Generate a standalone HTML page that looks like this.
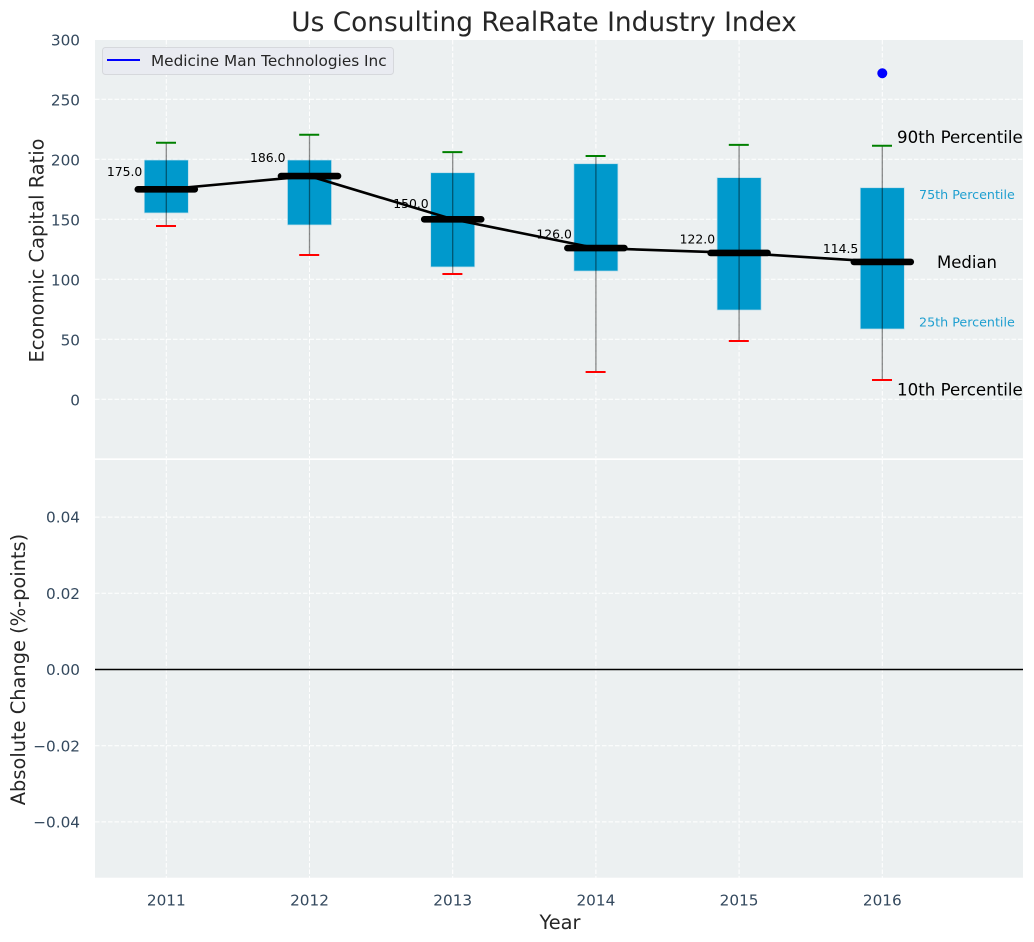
<!DOCTYPE html>
<html>
<head>
<meta charset="utf-8">
<title>Us Consulting RealRate Industry Index</title>
<style>
html,body{margin:0;padding:0;background:#fff;}
svg{display:block;font-family:"DejaVu Sans","Liberation Sans",sans-serif;}
</style>
</head>
<body>
<svg id="chart" xmlns="http://www.w3.org/2000/svg" width="1034" height="942" viewBox="0 0 1034 942">
  <rect x="0" y="0" width="1034" height="942" fill="#ffffff"/>
  <rect x="95" y="40" width="928" height="418.300" fill="#ecf0f1"/>
  <rect x="95" y="460" width="928" height="417.700" fill="#ecf0f1"/>
  <g id="grid"></g>
  <g id="ticks"></g>
  <g id="marks"></g>
  <text x="544" y="31" font-size="26.4" text-anchor="middle" fill="#262626">Us Consulting RealRate Industry Index</text>
  <text transform="translate(43.5,250.5) rotate(-90)" font-size="19.4" text-anchor="middle" fill="#262626">Economic Capital Ratio</text>
  <text transform="translate(25,669.5) rotate(-90)" font-size="19.4" text-anchor="middle" fill="#262626">Absolute Change (%-points)</text>
  <text x="560" y="929" font-size="19.4" text-anchor="middle" fill="#262626">Year</text>
  <g>
    <rect x="102.500" y="47.500" width="291" height="27" rx="3" fill="#e9ebf1" stroke="#d6d8dc" stroke-width="1"/>
    <line x1="107" y1="60" x2="140" y2="60" stroke="#0000ff" stroke-width="2"/>
    <text x="151" y="66" font-size="15.28" fill="#262626">Medicine Man Technologies Inc</text>
  </g>
</svg>
<script>
const years = [2011, 2012, 2013, 2014, 2015, 2016];
const p90 = [213.8, 220.5, 206, 202.8, 212, 211.3];
const q3 = [199.4, 199.4, 188.8, 196.3, 184.7, 176.3];
const medians = [175, 186, 150, 126, 122, 114.5];
const q1 = [155.3, 145.3, 110.3, 106.9, 74.4, 58.6];
const p10 = [144.4, 120.3, 104.4, 22.8, 48.6, 16.1];
const medianLabels = ['175.0', '186.0', '150.0', '126.0', '122.0', '114.5'];
const companyYears = [2016];
const companyValues = [271.7];
const topTicks = [0, 50, 100, 150, 200, 250, 300];
const topTickLabels = ['0', '50', '100', '150', '200', '250', '300'];
const bottomTicks = [-0.04, -0.02, 0, 0.02, 0.04];
const bottomTickLabels = ['\u22120.04', '\u22120.02', '0.00', '0.02', '0.04'];

const NS = 'http://www.w3.org/2000/svg';
function xScale(year) { return 166.3 + (year - 2011) * 143.2; }
function yTop(value) { return 399.3 - value * 1.2; }
function yBottom(value) { return 669.5 - value * 3810; }
function add(parent, tag, attrs, text) {
  const el = document.createElementNS(NS, tag);
  Object.keys(attrs).forEach(function (k) { el.setAttribute(k, attrs[k]); });
  if (text !== undefined) { el.textContent = text; }
  parent.appendChild(el);
  return el;
}
const grid = document.getElementById('grid');
const ticks = document.getElementById('ticks');
const marks = document.getElementById('marks');
const TICK = '#34495e';
const dash = '4.5 2';

topTicks.forEach(function (t, i) {
  const line = add(grid, 'line', { x1: 95, x2: 1023, y1: yTop(t), y2: yTop(t), stroke: '#fff', 'stroke-width': 1, 'stroke-dasharray': dash });
  
  
  const label = add(ticks, 'text', { x: 80, y: yTop(t) + 6, 'font-size': 15.28, 'text-anchor': 'end', fill: TICK }, topTickLabels[i]);
  
  
});
bottomTicks.forEach(function (t, i) {
  const line = add(grid, 'line', { x1: 95, x2: 1023, y1: yBottom(t), y2: yBottom(t), stroke: '#fff', 'stroke-width': 1, 'stroke-dasharray': dash });
  
  
  const label = add(ticks, 'text', { x: 80, y: yBottom(t) + 5.6, 'font-size': 15.28, 'text-anchor': 'end', fill: TICK }, bottomTickLabels[i]);
  
  
});
years.forEach(function (year) {
  const x = xScale(year);
  const a = add(grid, 'line', { x1: x, x2: x, y1: 40, y2: 458, stroke: '#fff', 'stroke-width': 1, 'stroke-dasharray': dash });
  
  
  const b = add(grid, 'line', { x1: x, x2: x, y1: 460, y2: 878, stroke: '#fff', 'stroke-width': 1, 'stroke-dasharray': dash });
  
  
  const label = add(ticks, 'text', { x: x, y: 905.5, 'font-size': 15.28, 'text-anchor': 'middle', fill: TICK }, String(year));
  
  
});

const zero = add(marks, 'line', { x1: 95, x2: 1023, y1: yBottom(0), y2: yBottom(0), stroke: '#000', 'stroke-width': 1.4 });



years.forEach(function (year, i) {
  const x = xScale(year);
  const box = add(marks, 'rect', { x: x - 22, y: yTop(q3[i]), width: 44, height: yTop(q1[i]) - yTop(q3[i]), fill: '#0099cc', stroke: '#b9dcea', 'stroke-width': 0.7 });
  
  
  const whisker = add(marks, 'line', { x1: x, x2: x, y1: yTop(p90[i]), y2: yTop(p10[i]), stroke: '#000', 'stroke-opacity': 0.45, 'stroke-width': 1.3 });
  
  
  const capHigh = add(marks, 'line', { x1: x - 10.3, x2: x + 9.7, y1: yTop(p90[i]), y2: yTop(p90[i]), stroke: '#008000', 'stroke-width': 2 });
  
  
  const capLow = add(marks, 'line', { x1: x - 10.3, x2: x + 9.7, y1: yTop(p10[i]), y2: yTop(p10[i]), stroke: '#ff0000', 'stroke-width': 2 });
  
  
});

const trendPoints = years.map(function (year, i) { return xScale(year) + ',' + yTop(medians[i]); }).join(' ');
const trend = add(marks, 'polyline', { points: trendPoints, fill: 'none', stroke: '#000', 'stroke-width': 2.6 });



years.forEach(function (year, i) {
  const x = xScale(year);
  const median = add(marks, 'line', { x1: x - 28.5, x2: x + 28.5, y1: yTop(medians[i]), y2: yTop(medians[i]), stroke: '#000', 'stroke-width': 6.6, 'stroke-linecap': 'round' });
  
  
  const label = add(marks, 'text', { x: x - 24, y: yTop(medians[i] * 1.061 + 4.3) + 4.6, 'font-size': 12.4, 'text-anchor': 'end', fill: '#000' }, medianLabels[i]);
  
  
});

companyYears.forEach(function (year, i) {
  const dot = add(marks, 'circle', { cx: xScale(year), cy: yTop(companyValues[i]), r: 5, fill: '#0000ff' });
  
  
});

const last = years.length - 1;
const anchorX = xScale(years[last]);
const p90Note = add(marks, 'text', { x: anchorX + 14.7, y: yTop(p90[last]) - 2.5, 'font-size': 16.67, fill: '#000' }, '90th Percentile');


const q3Note = add(marks, 'text', { x: anchorX + 36.7, y: yTop(q3[last]) + 11.5, 'font-size': 12.7, fill: '#1f9fd0' }, '75th Percentile');


const medianNote = add(marks, 'text', { x: anchorX + 54.7, y: yTop(medians[last]) + 6, 'font-size': 16.5, fill: '#000' }, 'Median');


const q1Note = add(marks, 'text', { x: anchorX + 36.7, y: yTop(q1[last]) - 2.5, 'font-size': 12.7, fill: '#1f9fd0' }, '25th Percentile');


const p10Note = add(marks, 'text', { x: anchorX + 14.7, y: yTop(p10[last]) + 15.5, 'font-size': 16.67, fill: '#000' }, '10th Percentile');


</script>
</body>
</html>
